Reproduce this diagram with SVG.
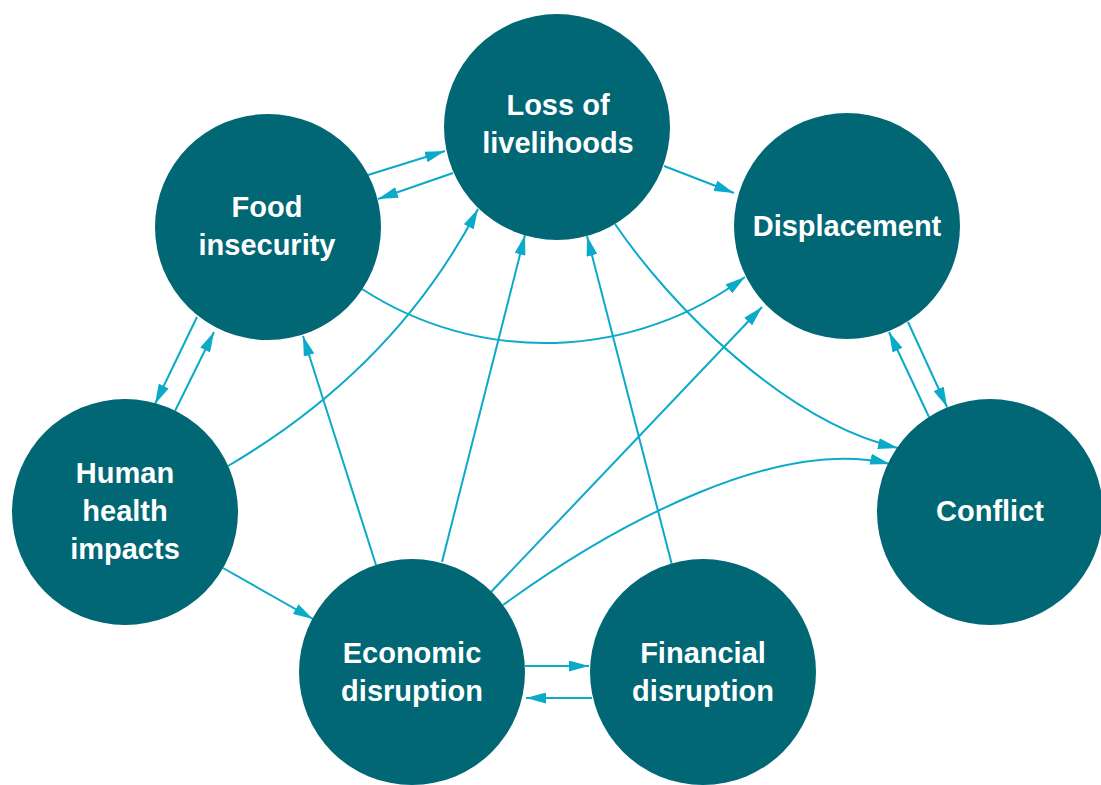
<svg xmlns="http://www.w3.org/2000/svg" width="1101" height="785" viewBox="0 0 1101 785">
<style>
.node{fill:#026775}
.lbl{fill:#ffffff;font-family:"Liberation Sans",Arial,sans-serif;font-weight:bold;font-size:29px;text-anchor:middle}
.edge{fill:none;stroke:#0aaac8;stroke-width:2}
</style>
<defs>
<marker id="ah" viewBox="0 0 20 11" refX="20" refY="5.5" markerWidth="20" markerHeight="11" markerUnits="userSpaceOnUse" orient="auto">
<path d="M0,0 L20,5.5 L0,11 z" fill="#0aaac8"/>
</marker>
</defs>
<rect width="1101" height="785" fill="#ffffff"/>
<g id="connectors">
<line class="edge" x1="368" y1="175" x2="445" y2="151" marker-end="url(#ah)"/>
<line class="edge" x1="453" y1="173" x2="378" y2="199" marker-end="url(#ah)"/>
<line class="edge" x1="664" y1="166" x2="734" y2="193" marker-end="url(#ah)"/>
<line class="edge" x1="197" y1="317" x2="155" y2="404" marker-end="url(#ah)"/>
<line class="edge" x1="175" y1="411" x2="214" y2="332" marker-end="url(#ah)"/>
<line class="edge" x1="376" y1="565" x2="303" y2="336" marker-end="url(#ah)"/>
<line class="edge" x1="442" y1="562" x2="525" y2="235" marker-end="url(#ah)"/>
<line class="edge" x1="672" y1="565" x2="587" y2="236" marker-end="url(#ah)"/>
<line class="edge" x1="491" y1="592" x2="762" y2="307" marker-end="url(#ah)"/>
<line class="edge" x1="223" y1="568" x2="313" y2="619" marker-end="url(#ah)"/>
<line class="edge" x1="525" y1="666" x2="589" y2="666" marker-end="url(#ah)"/>
<line class="edge" x1="592" y1="698" x2="526" y2="698" marker-end="url(#ah)"/>
<line class="edge" x1="908" y1="322" x2="947" y2="407" marker-end="url(#ah)"/>
<line class="edge" x1="929" y1="417" x2="889" y2="332" marker-end="url(#ah)"/>
<path class="edge" d="M362,289 A336,336 0 0,0 745,277" marker-end="url(#ah)"/>
<path class="edge" d="M228,466 Q395,368 478,209" marker-end="url(#ah)"/>
<path class="edge" d="M615,224 C670,305 785,422 898,448" marker-end="url(#ah)"/>
<path class="edge" d="M503,605 C620,520 780,437 890,464" marker-end="url(#ah)"/>
</g>
<g id="loss">
<circle class="node" cx="557" cy="127" r="113"/>
<text class="lbl" x="558" y="115">Loss of</text>
<text class="lbl" x="558" y="153">livelihoods</text>
</g>
<g id="food">
<circle class="node" cx="268" cy="227" r="113"/>
<text class="lbl" x="267" y="217">Food</text>
<text class="lbl" x="267" y="255">insecurity</text>
</g>
<g id="displacement">
<circle class="node" cx="847" cy="226" r="113"/>
<text class="lbl" x="847" y="236">Displacement</text>
</g>
<g id="human">
<circle class="node" cx="125" cy="512" r="113"/>
<text class="lbl" x="125" y="483">Human</text>
<text class="lbl" x="125" y="521">health</text>
<text class="lbl" x="125" y="559">impacts</text>
</g>
<g id="conflict">
<circle class="node" cx="990" cy="512" r="113"/>
<text class="lbl" x="990" y="521">Conflict</text>
</g>
<g id="economic">
<circle class="node" cx="412" cy="672" r="113"/>
<text class="lbl" x="412" y="663">Economic</text>
<text class="lbl" x="412" y="701">disruption</text>
</g>
<g id="financial">
<circle class="node" cx="703" cy="672" r="113"/>
<text class="lbl" x="703" y="663">Financial</text>
<text class="lbl" x="703" y="701">disruption</text>
</g>
</svg>
